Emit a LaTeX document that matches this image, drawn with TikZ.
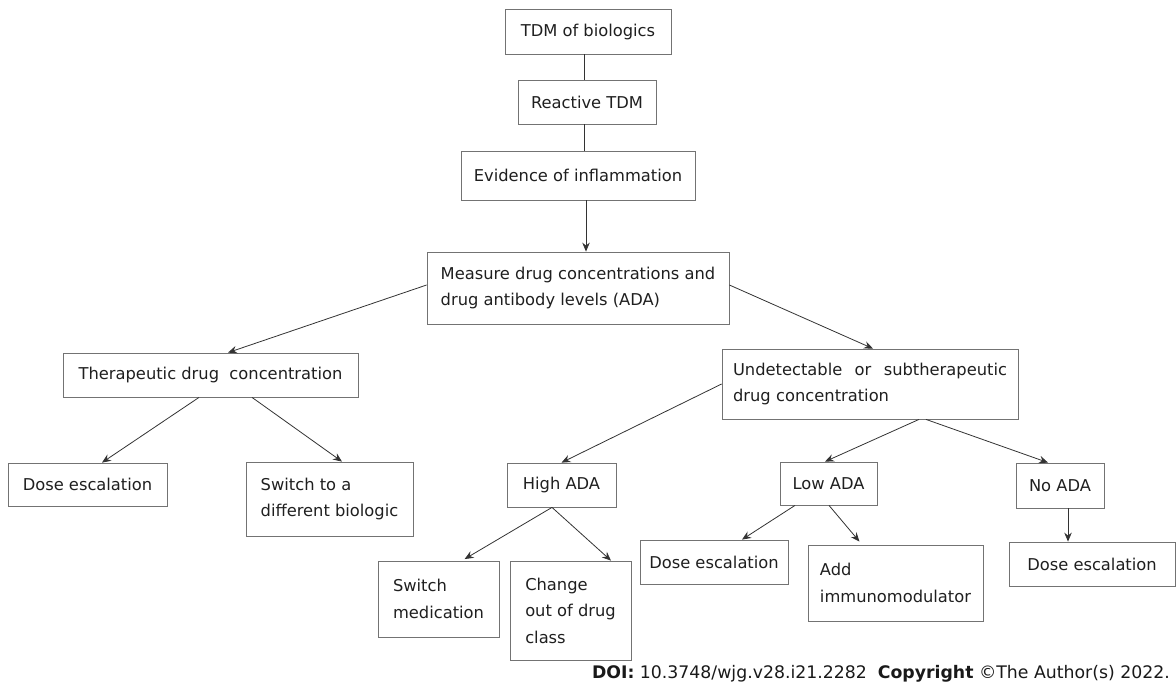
\documentclass[tikz,border=0pt]{standalone}
\usepackage{fontspec}
\setmainfont{DejaVu Sans}
\usepackage{tikz}
\usetikzlibrary{arrows.meta}
\tikzset{
	boxnode/.style = {rectangle, draw=black!55, line width=0.8pt, inner sep=0pt,
		text=black!88, font=\fontsize{16.3}{26.5}\selectfont},
	box_c/.style = {boxnode, align=center},
	box_l/.style = {boxnode, align=left},
	link/.style = {draw=black!80, line width=0.8pt},
	foot/.style = {inner sep=0pt, text=black!90, font=\fontsize{17.3}{19}\selectfont}
}

\begin{document}
\begin{tikzpicture}[x=1pt,y=-1pt,>={Stealth[length=9pt,width=7.5pt,inset=3pt]}]
\useasboundingbox (0,0) rectangle (1176,686);
% top of the chart
\node [box_c, minimum width=166, minimum height=45] (tdm) at (588,31.5) {TDM of biologics};
\node [box_c, minimum width=138, minimum height=44] (react) at (587,102) {Reactive TDM};
\node [box_c, minimum width=234, minimum height=49] (evid) at (578,175.5) {Evidence of inflammation};
\node [box_l, minimum width=302, minimum height=72] (meas) at (578,288)
	{Measure drug concentrations and\\drug antibody levels (ADA)};
% second level
\node [box_c, minimum width=295, minimum height=44] (ther) at (210.5,375) {Therapeutic drug\ \ concentration};
\node [box_l, minimum width=296, minimum height=70, text width=274] (undet) at (870,384)
	{Undetectable\hfill or\hfill subtherapeutic\\drug concentration};
% third level
\node [box_c, minimum width=159, minimum height=43] (dose1) at (87.5,484.5) {Dose escalation};
\node [box_l, minimum width=167, minimum height=74] (switch) at (329.5,499) {Switch to a\\different biologic};
\node [box_c, minimum width=109, minimum height=44] (high) at (561.5,485) {High ADA};
\node [box_c, minimum width=97, minimum height=43] (low) at (828.5,483.5) {Low ADA};
\node [box_c, minimum width=88, minimum height=45] (noada) at (1060,485.5) {No ADA};
% bottom level
\node [box_l, minimum width=121, minimum height=76] (swmed) at (438.5,599) {Switch\\medication};
\node [box_l, minimum width=121, minimum height=99] (change) at (570.5,610.5) {Change\\out of drug\\class};
\node [box_c, minimum width=148, minimum height=44] (dose2) at (714,562) {Dose escalation};
\node [box_l, minimum width=175, minimum height=76] (addim) at (895.5,583) {Add\\immunomodulator};
\node [box_c, minimum width=166, minimum height=44] (dose3) at (1092,564) {Dose escalation};

% connectors
\draw [link] ([xshift=-4]tdm.south) -- ([xshift=-3]react.north);
\draw [link] ([xshift=-3]react.south) -- ([xshift=6]evid.north);
\draw [link,->] ([xshift=8]evid.south) -- ([xshift=8]meas.north);
\draw [link,->] ([yshift=3]meas.west) -- ([xshift=17.5]ther.north);
\draw [link,->] ([yshift=3]meas.east) -- ([xshift=3]undet.north);
\draw [link,->] ([xshift=-11.5]ther.south) -- ([xshift=14.5]dose1.north);
\draw [link,->] ([xshift=41.5]ther.south) -- ([xshift=12.5]switch.north);
\draw [link,->] (undet.west) -- (high.north);
\draw [link,->] ([xshift=49]undet.south) -- ([xshift=-3.5]low.north);
\draw [link,->] ([xshift=56]undet.south) -- ([xshift=-12]noada.north);
\draw [link,->,shorten >=3pt] ([xshift=-9.5]high.south) -- ([xshift=23.5]swmed.north);
\draw [link,->] ([xshift=-9.5]high.south) -- ([xshift=40.5]change.north);
\draw [link,->] ([xshift=-33.5]low.south) -- ([xshift=28]dose2.north);
\draw [link,->,shorten >=4pt] ([xshift=0.5]low.south) -- ([xshift=-33.5]addim.north);
\draw [link,->] ([xshift=8]noada.south) -- ([xshift=-24]dose3.north);

\node [foot, anchor=base east] (doi) at (1170,678)
	{\textbf{DOI:} 10.3748/wjg.v28.i21.2282\ \ \textbf{Copyright} ©The Author(s) 2022.};
\end{tikzpicture}
\end{document}
